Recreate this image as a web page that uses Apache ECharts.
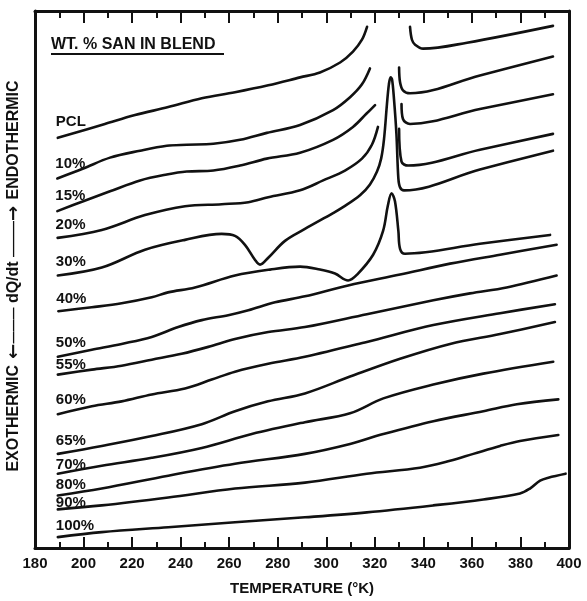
<!DOCTYPE html>
<html>
<head>
<meta charset="utf-8">
<script src="https://cdn.jsdelivr.net/npm/echarts@6/dist/echarts.min.js"></script>
<style>html,body{margin:0;padding:0;background:#fff}#c{width:587px;height:601px}</style>
</head>
<body>
<div id="c"></div>
<script>
// Temperature (K) vs dQ/dt (arbitrary units, curves offset vertically)
const curveNames = ['PCL','10%','15%','20%','30%','40%','50%','55%','60%','65%','70%','80%','90%','100%'];

const pcl  = [[189.4,41.4],[208.8,42.8],[221.2,43.7],[234.9,44.5],[248.7,45.4],[262.4,46.0],[276.1,46.7],[289.2,47.5],[297.4,48.0],[305.7,49.0],[311.0,50.1],[314.7,51.3],[316.8,52.6],[325,'-'],[334.5,52.6],[335.3,51.3],[336.6,50.8],[339.9,50.4],[358.0,51.0],[393.4,52.7]];
const w10  = [[189.2,37.3],[199.9,38.3],[210.9,39.4],[223.3,40.1],[234.3,40.6],[242.5,40.7],[253.5,40.8],[264.5,41.2],[275.5,41.9],[289.2,42.7],[302.8,44.2],[309.8,45.5],[314.7,46.8],[318.0,48.4],[324,'-'],[330.0,48.5],[330.4,47.0],[331.6,46.2],[334.5,45.9],[363.3,47.7],[393.4,49.6]];
const w15  = [[189.2,34.0],[199.9,35.0],[210.9,36.0],[223.3,37.1],[234.3,37.7],[242.5,38.0],[253.5,38.1],[264.5,38.6],[275.5,39.3],[289.2,39.9],[302.8,41.2],[311.0,42.5],[316.4,43.8],[320.1,44.7],[326,'-'],[331.0,44.8],[331.6,43.3],[334.5,42.8],[363.3,44.3],[393.4,45.8]];
const w20  = [[189.3,31.3],[207.5,32.1],[225.3,33.6],[241.8,34.5],[256.9,34.7],[267.9,34.9],[276.1,35.4],[289.2,36.1],[298.7,37.1],[307.7,38.1],[314.7,39.3],[318.8,40.7],[321.3,42.5],[326,'-'],[330.0,42.3],[331.0,39.0],[333.7,38.6],[363.3,40.2],[393.4,41.8]];
const w30  = [[189.4,27.5],[207.5,28.3],[225.3,30.1],[241.8,31.1],[256.9,31.7],[262.4,31.5],[266.5,30.6],[270.6,29.1],[272.7,28.6],[276.1,29.3],[283.0,31.0],[291.2,32.2],[302.8,33.8],[306.9,34.4],[313.9,35.6],[318.0,36.7],[320.9,38.0],[322.6,39.3],[323.8,41.3],[325.0,44.8],[325.8,46.8],[326.5,47.5],[327.1,47.3],[327.9,45.3],[328.9,41.8],[329.7,37.3],[330.4,36.4],[332.0,36.1],[363.3,38.2],[393.4,40.1]];
const w40  = [[189.6,23.9],[203.4,24.3],[215.7,24.7],[228.1,25.3],[234.8,25.8],[245.9,26.3],[262.4,27.5],[276.8,28.1],[289.2,28.4],[297.4,28.1],[303.6,27.7],[309.0,27.0],[312.7,27.6],[319.3,29.6],[323.4,32.0],[325.4,34.6],[326.9,35.8],[328.3,35.0],[329.7,32.0],[330.4,30.2],[332.4,29.7],[363.3,30.7],[392.2,31.6]];
const w50  = [[189.4,19.3],[203.4,20.0],[215.7,20.6],[228.1,21.3],[239.0,22.3],[248.7,23.0],[259.6,23.5],[267.9,24.0],[278.9,24.8],[291.2,25.4],[309.0,26.5],[330.4,27.6],[351.0,28.7],[371.6,29.6],[394.9,30.6]];
const w55  = [[189.4,17.5],[203.4,18.0],[215.7,18.4],[228.1,19.0],[240.4,19.6],[251.4,20.3],[262.4,21.1],[276.1,21.8],[291.2,22.3],[316.7,23.6],[344.1,25.0],[359.2,25.7],[374.3,26.3],[394.9,27.5]];
const w60  = [[189.4,13.5],[203.4,14.3],[215.7,14.8],[228.1,15.5],[241.8,16.1],[252.8,17.0],[262.4,17.8],[276.1,18.6],[291.2,19.3],[316.7,20.8],[344.1,22.5],[371.6,23.7],[394.2,24.6]];
const w65  = [[189.4,9.5],[207.5,10.3],[228.1,11.3],[248.7,12.5],[262.4,13.8],[276.0,14.8],[291.2,15.6],[309.8,17.3],[330.4,19.1],[351.0,20.6],[371.6,21.6],[394.2,22.8]];
const w70  = [[189.4,7.5],[207.5,8.3],[228.1,9.1],[248.7,10.1],[269.3,11.5],[291.2,12.7],[309.8,13.6],[323.5,15.1],[344.1,16.5],[364.7,17.6],[393.5,18.8]];
const w80  = [[189.4,5.3],[207.5,6.0],[234.9,7.3],[262.4,8.5],[291.2,9.5],[309.8,10.5],[323.5,11.5],[344.1,12.8],[364.7,13.8],[378.5,14.5],[395.6,15.0]];
const w90  = [[189.4,3.9],[207.5,4.3],[234.9,5.1],[262.4,6.0],[291.2,6.6],[316.7,7.5],[338.6,8.1],[351.0,8.8],[360.6,9.5],[371.6,10.3],[379.8,10.8],[395.6,11.4]];
const w100 = [[189.4,1.1],[207.5,1.6],[234.9,2.1],[262.4,2.6],[291.2,3.1],[316.7,3.6],[344.1,4.3],[364.7,4.9],[379.8,5.5],[383.9,6.0],[388.1,6.8],[391.5,7.1],[398.6,7.5]];

const curves = [pcl,w10,w15,w20,w30,w40,w50,w55,w60,w65,w70,w80,w90,w100];

const titleText = 'WT. % SAN IN BLEND';
const xName = 'TEMPERATURE (°K)';
const yNameParts = ['EXOTHERMIC', 'dQ/dt', 'ENDOTHERMIC'];

// label lift above each curve's first point (px)
const labelLift = [16,15,15,13,14,12,14,10,14,13,9,11,7,11];

const INK = '#111';
const FONT = '"Liberation Sans", Arial, sans-serif';

const chart = echarts.init(document.getElementById('c'), null, {renderer:'canvas'});

const xCommon = {
  type:'value', min:180, max:400, interval:20,
  axisLine:{show:true, onZero:false, lineStyle:{color:INK, width:3}},
  splitLine:{show:false}
};

chart.setOption({
  animation:false,
  backgroundColor:'#fff',
  grid:{left:35, right:18, top:11, bottom:48, containLabel:false},
  xAxis:[
    Object.assign({}, xCommon, {
      position:'bottom',
      axisTick:{show:true, inside:true, length:11, lineStyle:{color:INK, width:2}},
      minorTick:{show:true, splitNumber:2, length:6, lineStyle:{color:INK, width:2}},
      axisLabel:{show:true, margin:8, color:INK, fontFamily:FONT, fontWeight:'bold', fontSize:15, showMinLabel:true, showMaxLabel:true},
      name:xName, nameLocation:'middle', nameGap:33,
      nameTextStyle:{color:INK, fontFamily:FONT, fontWeight:'bold', fontSize:15}
    }),
    Object.assign({}, xCommon, {
      position:'top',
      axisTick:{show:true, inside:true, length:12, lineStyle:{color:INK, width:2}},
      minorTick:{show:true, splitNumber:2, length:7, lineStyle:{color:INK, width:2}},
      axisLabel:{show:false}
    })
  ],
  yAxis:[
    {type:'value', min:0, max:54.2, position:'left',
     axisLine:{show:true, onZero:false, lineStyle:{color:INK, width:3}},
     axisTick:{show:false}, axisLabel:{show:false}, splitLine:{show:false}},
    {type:'value', min:0, max:54.2, position:'right',
     axisLine:{show:true, onZero:false, lineStyle:{color:INK, width:3}},
     axisTick:{show:false}, axisLabel:{show:false}, splitLine:{show:false}}
  ],
  series: curves.map((d,i)=>({
    name:curveNames[i], type:'line', data:d,
    xAxisIndex:0, yAxisIndex:0,
    showSymbol:false, symbol:'none',
    smooth:0.35, connectNulls:false,
    lineStyle:{color:INK, width:2.6, cap:'round', join:'round'},
    silent:true
  }))
});

const gfx = [];
curves.forEach((d,i)=>{
  const p = chart.convertToPixel({xAxisIndex:0, yAxisIndex:0}, d[0]);
  gfx.push({type:'text', x:p[0]-2, y:p[1]-labelLift[i], silent:true,
    style:{text:curveNames[i], fill:INK, font:'bold 15px '+FONT, textAlign:'left', textVerticalAlign:'middle'}});
});
gfx.push({type:'text', x:51, y:45, silent:true,
  style:{text:titleText, fill:INK, font:'bold 16px '+FONT, textAlign:'left', textVerticalAlign:'middle'}});
gfx.push({type:'line', silent:true, shape:{x1:51, y1:54, x2:224, y2:54}, style:{stroke:INK, lineWidth:2}});
gfx.push({type:'text', x:14, y:276, rotation:Math.PI/2, silent:true,
  style:{
    text:'{t|'+yNameParts[0]+'}{a| ←}{d|———}{t| '+yNameParts[1]+' }{d|———}{a|→ }{t|'+yNameParts[2]+'}',
    textAlign:'center', textVerticalAlign:'middle',
    rich:{
      t:{fill:INK, font:'bold 16px '+FONT},
      d:{fill:INK, font:'bold 12px '+FONT},
      a:{fill:INK, font:'bold 18px "DejaVu Sans", sans-serif'}
    }
  }});
chart.setOption({graphic:gfx});
</script>
</body>
</html>
